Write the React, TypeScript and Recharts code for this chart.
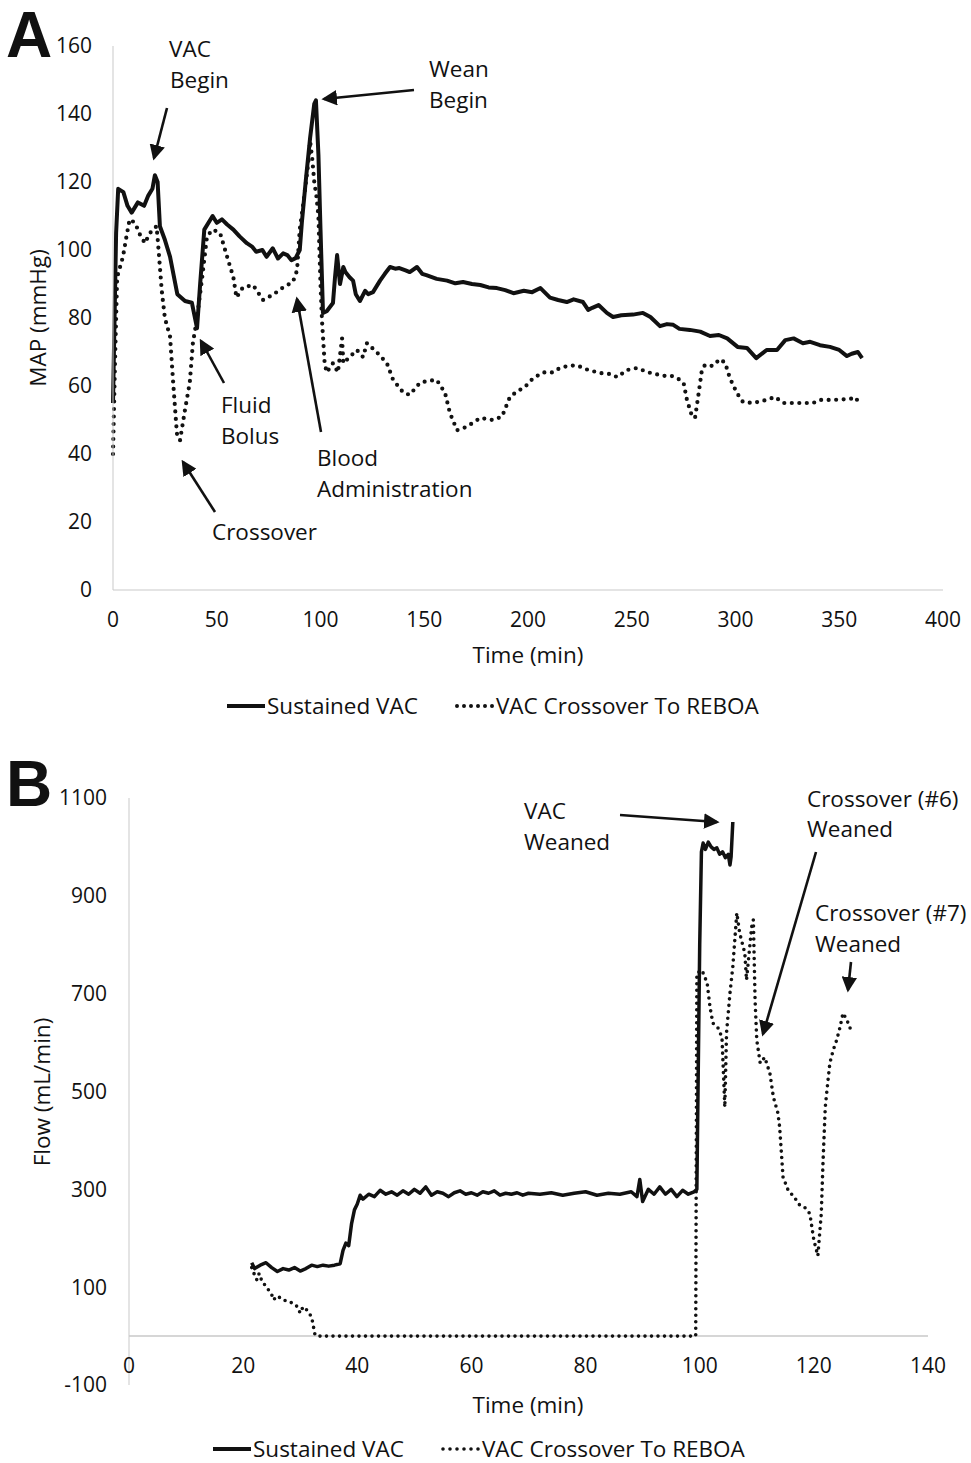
import React from "react";
import { LineChart, Line, XAxis, YAxis, ReferenceLine } from "recharts";

// Panel A: MAP (mmHg) over time (min)
const sustainedMap: [number, number][] = [
  [0, 55], [1.5, 105], [2.5, 118], [5, 117], [7, 113], [9, 111], [12, 114], [15, 113], [17, 116], [19, 118],
  [20.2, 122], [21.5, 120], [22.6, 107], [25, 103], [27.5, 98], [31, 87], [34.7, 85], [38, 84.5], [40.5, 77],
  [42, 90], [44, 106], [48, 110], [50, 108], [52.5, 109], [55, 107.5], [58, 106], [61, 104], [64.5, 102],
  [67, 101], [69, 99.5], [72, 100], [74, 98], [77, 100.5], [79.5, 97.5], [82, 99], [84, 98.5], [86, 97],
  [88, 97.6], [90, 100], [91, 108], [93, 121], [95, 133], [97, 143], [97.8, 144], [99, 128], [100, 106],
  [101.2, 81.5], [103, 82], [106, 84.4], [107, 92], [108, 98.5], [109.4, 90], [111, 95], [112, 93.5],
  [114, 92], [115.7, 91], [117, 87], [119, 85], [121.5, 88], [123, 87], [125.3, 87.6], [128.7, 91],
  [131, 93], [133.5, 95], [136, 94.5], [138, 94.7], [141, 94], [143, 93.5], [146.5, 95], [149, 93],
  [151, 92.6], [156, 91.5], [161, 91], [165, 90.2], [168.7, 90.6], [173, 90], [177, 89.7], [181, 89],
  [185, 88.8], [189, 88.2], [193, 87.3], [198, 88], [202, 87.6], [206, 88.8], [210.6, 86], [214.5, 85.3],
  [218.7, 84.7], [222, 85.5], [226.5, 84.7], [229, 82.4], [231, 83], [234, 83.8], [238, 81.5], [241, 80.3],
  [245, 80.8], [250.6, 81], [255.4, 81.5], [259, 80.3], [263.6, 77.6], [267, 78.2], [270, 78], [273, 76.8],
  [278, 76.5], [283, 76], [287.7, 74.7], [292, 75], [296, 74], [301, 71.5], [305.5, 71.2], [310, 68.2],
  [315, 70.6], [320, 70.6], [324, 73.5], [328, 74], [332.5, 72.6], [336, 73], [340.7, 72], [345.5, 71.5],
  [350, 70.6], [353.7, 68.8], [356, 69.5], [359, 70], [361, 68.2],
];

const crossoverMap: [number, number][] = [
  [0, 40], [1, 68], [2, 92], [4.8, 98], [6.5, 104], [8, 109], [10.6, 108], [13, 104.5], [15.4, 102],
  [17.8, 105], [21, 107], [21.7, 102], [23.5, 88], [25, 80], [27.5, 74.5], [29, 61], [30.8, 46], [32.3, 44],
  [34.7, 53], [37, 61], [38.5, 72.6], [40.5, 80], [43, 92], [45.3, 104], [48, 106], [51.6, 105], [55, 98],
  [58, 92], [59.5, 86], [62.6, 89], [67.5, 89.7], [72.3, 85.3], [77, 86.8], [82, 89], [86.7, 90.6],
  [88.7, 94], [90, 106], [92, 115], [94, 125], [95, 132], [96, 127], [97, 120], [98, 116], [99, 110],
  [100, 90], [100.7, 79.4], [102, 66.7], [103, 64], [106, 66.7], [108.4, 64], [110.4, 74], [111, 66.7],
  [114, 68.5], [117.5, 70.6], [120.5, 68.5], [122.4, 72.6], [127, 70], [132, 66.7], [135, 61.8], [140, 58],
  [143, 57.4], [148, 61], [152, 61.5], [156, 61.8], [160, 58], [162.4, 52], [165.8, 47], [170.5, 48],
  [177, 50.6], [183, 50], [187.5, 51], [191.3, 56.8], [195, 58.5], [198.5, 59.7], [202.5, 62.3], [207.4, 64],
  [212, 64], [215.4, 65.3], [220, 66], [224, 66], [227.5, 65], [234.7, 63.8], [240, 63.5], [243, 62.6],
  [247.7, 64.7], [252.5, 65.3], [258, 64], [265, 63], [269, 63], [272, 62.3], [275, 60.9], [276.6, 55.9],
  [279, 51.2], [280.5, 50.6], [282, 56.8], [283.8, 64.7], [285.3, 66.2], [289, 65.9], [292.5, 67.9],
  [295, 66.8], [297.3, 62.3], [300.7, 57.9], [303.6, 55.3], [308.5, 55], [315, 55.9], [319, 56.8], [323, 55],
  [331, 55], [337.4, 55], [340.7, 55.9], [347, 55.9], [355, 56.2], [358.4, 56.5], [359, 54.1],
];

// Panel B: Flow (mL/min) over time (min)
const sustainedFlow: [number, number][] = [
  [21.5, 150], [22, 138], [23, 145], [24, 150], [25, 140], [26, 132], [27, 138], [28, 135], [29, 140],
  [30, 133], [31, 138], [32, 145], [33, 142], [34, 145], [35, 143], [36, 145], [37, 148], [37.5, 175],
  [38, 190], [38.5, 185], [39, 230], [39.5, 258], [40, 270], [40.5, 288], [41, 280], [42, 290], [43, 285],
  [44, 298], [45, 290], [46, 295], [47, 288], [48, 297], [49, 290], [50, 300], [51, 292], [52, 305],
  [53, 288], [54, 295], [55, 292], [56, 285], [57, 293], [58, 297], [59, 290], [60, 293], [61, 288],
  [62, 295], [63, 292], [64, 297], [65, 288], [66, 292], [67, 290], [68, 293], [69, 288], [70, 292],
  [72, 290], [74, 293], [76, 288], [78, 292], [80, 295], [82, 288], [84, 292], [86, 290], [88, 295],
  [89, 285], [89.5, 320], [90, 275], [91, 300], [92, 290], [93, 305], [94, 290], [95, 300], [96, 285],
  [97, 298], [98, 290], [99, 295], [99.5, 300], [100, 800], [100.3, 990], [100.6, 1008], [101, 995],
  [101.5, 1010], [102, 1000], [102.5, 995], [103, 998], [103.5, 985], [104, 990], [104.5, 978], [105, 985],
  [105.3, 963], [105.5, 980], [105.8, 1051],
];

const crossoverFlow: [number, number][] = [
  [21.5, 140], [22, 125], [22.4, 115], [22.8, 128], [23.3, 112], [24.1, 100], [25, 85], [25.3, 74],
  [26, 82], [27, 74], [28, 70], [28.8, 67], [29.5, 60], [30, 47], [30.5, 60], [31.2, 53], [32, 39],
  [32.6, 2], [33, 0], [99.3, 0], [99.5, 742], [100.4, 748], [101.3, 722], [101.8, 673], [102.3, 640],
  [103.2, 630], [103.9, 611], [104.4, 468], [104.7, 620], [105.3, 701], [105.8, 755], [106.5, 865],
  [107, 824], [107.9, 783], [108.2, 728], [109.1, 836], [109.4, 851], [109.7, 687], [110, 605],
  [110.6, 558], [111.4, 570], [112.3, 537], [112.9, 489], [113.7, 456], [114, 428], [114.6, 325],
  [115.5, 298], [116.5, 285], [117.5, 268], [118.5, 262], [119.3, 250], [120, 196], [120.7, 164],
  [121.3, 250], [121.6, 354], [122, 468], [122.3, 503], [122.8, 558], [123.4, 585], [124, 605],
  [124.6, 632], [125.1, 660], [125.8, 646], [126.3, 630], [126.9, 626],
];

const ticksTimeA = [0, 50, 100, 150, 200, 250, 300, 350, 400];
const ticksMapA = [0, 20, 40, 60, 80, 100, 120, 140, 160];
const ticksTimeB = [0, 20, 40, 60, 80, 100, 120, 140];
const ticksFlowB = [-100, 100, 300, 500, 700, 900, 1100];

const toRows = (pts: [number, number][]) => pts.map(([t, v]) => ({ t, v }));

const FONT = "'Open Sans', 'Noto Sans', sans-serif";
const AXIS = "#c9c9c9";
const INK = "#111";
const TXT = 22.5;

function LegendRow({ left, top, solidW, dotW }: { left: number; top: number; solidW: number; dotW: number }) {
  return (
    <div
      style={{
        position: "absolute",
        left,
        top,
        display: "flex",
        alignItems: "center",
        fontFamily: FONT,
        fontSize: TXT,
        color: INK,
        whiteSpace: "nowrap",
        lineHeight: "28px",
      }}
    >
      <svg width={40} height={10}>
        <line x1={0} y1={5} x2={38} y2={5} stroke={INK} strokeWidth={solidW} />
      </svg>
      <span>Sustained VAC</span>
      <svg width={42} height={10} style={{ marginLeft: 36 }}>
        <line x1={3} y1={5} x2={39} y2={5} stroke={INK} strokeWidth={dotW} strokeDasharray="0 7" strokeLinecap="round" />
      </svg>
      <span>VAC Crossover To REBOA</span>
    </div>
  );
}

const BTick = (props: any) => {
  const { x, y, payload } = props;
  return (
    <text x={x} y={y - 12} textAnchor="middle" fontFamily={FONT} fontSize={21} fill={INK}>
      {payload.value}
    </text>
  );
};

const Arrow = ({ x1, y1, x2, y2 }: { x1: number; y1: number; x2: number; y2: number }) => (
  <line x1={x1} y1={y1} x2={x2} y2={y2} stroke={INK} strokeWidth={2.6} markerEnd="url(#head)" />
);

const Txt = ({ x, y, children }: { x: number; y: number; children: React.ReactNode }) => (
  <text x={x} y={y} fontFamily={FONT} fontSize={TXT} fill={INK}>
    {children}
  </text>
);

export default function App() {
  const tickStyle = { fontFamily: FONT, fontSize: 21, fill: INK };
  return (
    <div style={{ position: "absolute", left: 0, top: 0, width: 971, height: 1463, background: "#fff", overflow: "hidden" }}>
      <div style={{ position: "absolute", left: 0, top: 0 }}>
        <LineChart width={971} height={740} margin={{ top: 46, right: 28, left: 0, bottom: 110 }}>
          <XAxis
            type="number"
            dataKey="t"
            domain={[0, 400]}
            ticks={ticksTimeA}
            height={40}
            stroke={AXIS}
            tickLine={false}
            tickSize={0}
            tickMargin={22}
            tick={tickStyle}
          />
          <YAxis
            type="number"
            dataKey="v"
            domain={[0, 160]}
            ticks={ticksMapA}
            width={113}
            stroke={AXIS}
            tickLine={false}
            tickSize={0}
            tickMargin={21}
            tick={tickStyle}
          />
          <Line data={toRows(sustainedMap)} dataKey="v" stroke={INK} strokeWidth={4} dot={false} activeDot={false} isAnimationActive={false} strokeLinejoin="round" />
          <Line data={toRows(crossoverMap)} dataKey="v" stroke={INK} strokeWidth={4.2} strokeDasharray="0 7.5" strokeLinecap="round" dot={false} activeDot={false} isAnimationActive={false} />
        </LineChart>
      </div>

      <div style={{ position: "absolute", left: 0, top: 752 }}>
        <LineChart width={971} height={711} margin={{ top: 46, right: 43, left: 0, bottom: 48 }}>
          <XAxis
            type="number"
            dataKey="t"
            domain={[0, 140]}
            ticks={ticksTimeB}
            height={30}
            axisLine={false}
            tickLine={false}
            tickSize={0}
            tickMargin={0}
            tick={<BTick />}
          />
          <YAxis
            type="number"
            dataKey="v"
            domain={[-100, 1100]}
            ticks={ticksFlowB}
            width={129}
            stroke={AXIS}
            tickLine={false}
            tickSize={0}
            tickMargin={22}
            tick={tickStyle}
          />
          <ReferenceLine y={0} stroke={AXIS} strokeWidth={1.5} />
          <Line data={toRows(sustainedFlow)} dataKey="v" stroke={INK} strokeWidth={3.5} dot={false} activeDot={false} isAnimationActive={false} strokeLinejoin="round" />
          <Line data={toRows(crossoverFlow)} dataKey="v" stroke={INK} strokeWidth={3.6} strokeDasharray="0 6.5" strokeLinecap="round" dot={false} activeDot={false} isAnimationActive={false} />
        </LineChart>
      </div>

      <LegendRow left={227} top={692} solidW={4} dotW={4} />
      <LegendRow left={213} top={1435} solidW={4} dotW={3.6} />

      <svg width={971} height={1463} style={{ position: "absolute", left: 0, top: 0, pointerEvents: "none" }}>
        <defs>
          <marker id="head" markerWidth={6} markerHeight={6} refX={5} refY={3} orient="auto" markerUnits="strokeWidth">
            <path d="M0,0 L6,3 L0,6 Z" fill={INK} />
          </marker>
        </defs>

        <text x={6} y={57} fontFamily="'Liberation Sans', Arial, sans-serif" fontWeight={700} fontSize={64} fill={INK}>A</text>
        <text x={6} y={806} fontFamily="'Liberation Sans', Arial, sans-serif" fontWeight={700} fontSize={64} fill={INK}>B</text>

        <text x={528} y={663} textAnchor="middle" fontFamily={FONT} fontSize={TXT} fill={INK}>Time (min)</text>
        <text x={528} y={1413} textAnchor="middle" fontFamily={FONT} fontSize={TXT} fill={INK}>Time (min)</text>
        <text transform="translate(46,318) rotate(-90)" textAnchor="middle" fontFamily={FONT} fontSize={TXT} fill={INK}>MAP (mmHg)</text>
        <text transform="translate(50,1092) rotate(-90)" textAnchor="middle" fontFamily={FONT} fontSize={TXT} fill={INK}>Flow (mL/min)</text>

        <Txt x={169} y={57}>VAC</Txt>
        <Txt x={170} y={88}>Begin</Txt>
        <Arrow x1={167} y1={108} x2={154} y2={158} />

        <Txt x={429} y={77}>Wean</Txt>
        <Txt x={429} y={108}>Begin</Txt>
        <Arrow x1={414} y1={90} x2={324} y2={99} />

        <Txt x={221} y={413}>Fluid</Txt>
        <Txt x={221} y={444}>Bolus</Txt>
        <Arrow x1={224} y1={383} x2={201} y2={341} />

        <Txt x={317} y={466}>Blood</Txt>
        <Txt x={317} y={497}>Administration</Txt>
        <Arrow x1={321} y1={432} x2={297} y2={299} />

        <Txt x={212} y={540}>Crossover</Txt>
        <Arrow x1={215} y1={512} x2={183} y2={462} />

        <Txt x={524} y={819}>VAC</Txt>
        <Txt x={524} y={850}>Weaned</Txt>
        <Arrow x1={620} y1={815} x2={717} y2={822} />

        <Txt x={807} y={807}>Crossover (#6)</Txt>
        <Txt x={807} y={837}>Weaned</Txt>
        <Arrow x1={816} y1={852} x2={763} y2={1034} />

        <Txt x={815} y={921}>Crossover (#7)</Txt>
        <Txt x={815} y={952}>Weaned</Txt>
        <Arrow x1={851} y1={962} x2={848} y2={990} />
      </svg>
    </div>
  );
}
